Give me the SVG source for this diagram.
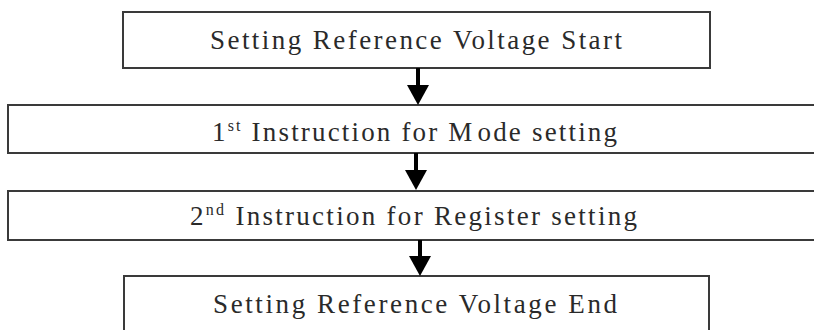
<svg xmlns="http://www.w3.org/2000/svg" width="814" height="330" viewBox="0 0 814 330">
<style>
.box{fill:#fff;stroke:#3a3a3a;stroke-width:2}
.lbl{font-size:27px;fill:#2a2a2a}
.sup{font-size:16px}
.shaft{stroke:#000;stroke-width:4;fill:none}
.head{fill:#000}
</style>
<rect width="814" height="330" fill="#fff"/>
<g id="start">
<rect class="box" x="123" y="12" width="587" height="56"/>
<text class="lbl" font-family="Liberation Serif, DejaVu Serif, serif" x="210" y="49" textLength="412" lengthAdjust="spacing">Setting Reference Voltage Start</text>
</g>
<g id="mode">
<rect class="box" x="8" y="105" width="820" height="48"/>
<text class="lbl" font-family="Liberation Serif, DejaVu Serif, serif" x="212" y="141" textLength="405" lengthAdjust="spacing">1<tspan class="sup" dy="-10">st</tspan><tspan dy="10"> Instruction for M</tspan><tspan dx="3">ode setting</tspan></text>
</g>
<g id="register">
<rect class="box" x="8" y="191" width="820" height="49"/>
<text class="lbl" font-family="Liberation Serif, DejaVu Serif, serif" x="190" y="225" textLength="447" lengthAdjust="spacing">2<tspan class="sup" dy="-10">nd</tspan><tspan dy="10"> Instruction for Register setting</tspan></text>
</g>
<g id="end">
<rect class="box" x="124" y="276" width="585" height="70"/>
<text class="lbl" font-family="Liberation Serif, DejaVu Serif, serif" x="213" y="313" textLength="404" lengthAdjust="spacing">Setting Reference Voltage End</text>
</g>
<g id="connectors">
<line class="shaft" x1="418" y1="68" x2="418" y2="88"/>
<polygon class="head" points="407,85 429,85 418,105"/>
<line class="shaft" x1="416" y1="153" x2="416" y2="173"/>
<polygon class="head" points="405,170 427,170 416,190"/>
<line class="shaft" x1="420" y1="240" x2="420" y2="259"/>
<polygon class="head" points="409,256 431,256 420,276"/>
</g>
</svg>
